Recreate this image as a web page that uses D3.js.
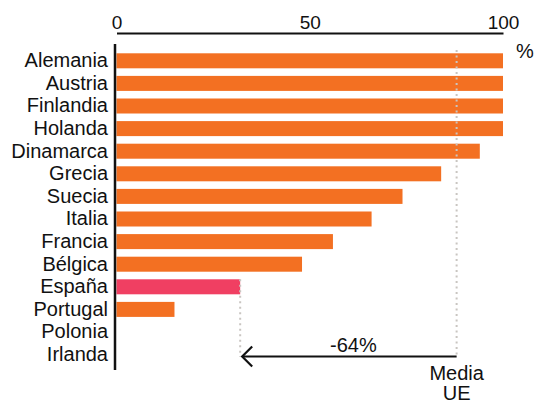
<html>
<head>
<meta charset="utf-8">
<title>Bar chart</title>
<script src="https://d3js.org/d3.v7.min.js"></script>
<style>
body { margin: 0; background: #fff; }
svg text { font-family: "Liberation Sans", Arial, sans-serif; fill: #111; }
</style>
</head>
<body>
<svg id="chart" width="536" height="405"></svg>
<script>

var countries = ["Alemania","Austria","Finlandia","Holanda","Dinamarca","Grecia","Suecia","Italia","Francia","Bélgica","España","Portugal","Polonia","Irlanda"];
var values = [100,100,100,100,94,84,74,66,56,48,32,15,0,0];
var highlight = "España";
var mediaUE = 88;
var tickValues = [0,50,100];

var svg = d3.select("#chart");
var fs = 20;

var x = d3.scaleLinear().domain([0,100]).range([116.5,503]);
var y = d3.scaleBand().domain(countries).range([49.5,365.9]).paddingInner(0.336).paddingOuter(0.168);

var rows = countries.map(function (c, i) { return {name: c, value: values[i]}; });

// top axis, no tick marks
var xAxisG = svg.append("g").attr("transform","translate(0,33)")
  .call(d3.axisTop(x).tickValues(tickValues).tickSize(0).tickSizeOuter(0).tickPadding(4));
xAxisG.select(".domain").attr("stroke","#111").attr("stroke-width",2);
xAxisG.selectAll("text").attr("font-size",19).attr("font-family","Liberation Sans, Arial, sans-serif").attr("fill","#111");

// left labels
var yAxisG = svg.append("g").attr("transform","translate(115,0)")
  .call(d3.axisLeft(y).tickSize(0).tickPadding(7));
yAxisG.select(".domain").remove();
yAxisG.selectAll("text").attr("font-size",fs).attr("font-family","Liberation Sans, Arial, sans-serif").attr("fill","#111");

// bars
svg.selectAll("rect.bar").data(rows).enter().append("rect")
  .attr("class","bar")
  .attr("x", x(0))
  .attr("y", function (d) { return y(d.name); })
  .attr("width", function (d) { return x(d.value) - x(0); })
  .attr("height", y.bandwidth())
  .attr("fill", function (d) { return d.name === highlight ? "#f03f62" : "#f37022"; });

// vertical axis line
svg.append("line").attr("x1",115).attr("x2",115).attr("y1",44).attr("y2",370)
  .attr("stroke","#111").attr("stroke-width",2.5);

// dotted guide lines
var dot = "2,3.5";
svg.append("line").attr("x1",x(mediaUE)).attr("x2",x(mediaUE))
  .attr("y1",50).attr("y2",356)
  .attr("stroke","#c9c5c1").attr("stroke-width",2).attr("stroke-dasharray",dot);
var esp = values[countries.indexOf(highlight)];
svg.append("line").attr("x1",x(esp)).attr("x2",x(esp))
  .attr("y1",y(highlight)).attr("y2",357)
  .attr("stroke","#c9c5c1").attr("stroke-width",2).attr("stroke-dasharray",dot);

// arrow
var ay = 356.5;
svg.append("line").attr("x1",x(mediaUE)).attr("x2",x(esp)+2).attr("y1",ay).attr("y2",ay)
  .attr("stroke","#111").attr("stroke-width",2.2);
svg.append("path")
  .attr("d","M" + (x(esp)+12) + "," + (ay-10) + "L" + (x(esp)+2) + "," + ay + "L" + (x(esp)+12) + "," + (ay+10))
  .attr("fill","none").attr("stroke","#111").attr("stroke-width",2.2);

svg.append("text").attr("x",(x(mediaUE)+x(esp))/2 + 5).attr("y",351.5)
  .attr("text-anchor","middle").attr("font-size",fs)
  .text("-" + Math.round((mediaUE - esp) / mediaUE * 100) + "%");

svg.append("text").attr("x",x(mediaUE)).attr("y",380).attr("text-anchor","middle").attr("font-size",fs).text("Media");
svg.append("text").attr("x",x(mediaUE)).attr("y",400).attr("text-anchor","middle").attr("font-size",fs).text("UE");

svg.append("text").attr("x",516).attr("y",58).attr("font-size",fs).text("%");

</script>
</body>
</html>
